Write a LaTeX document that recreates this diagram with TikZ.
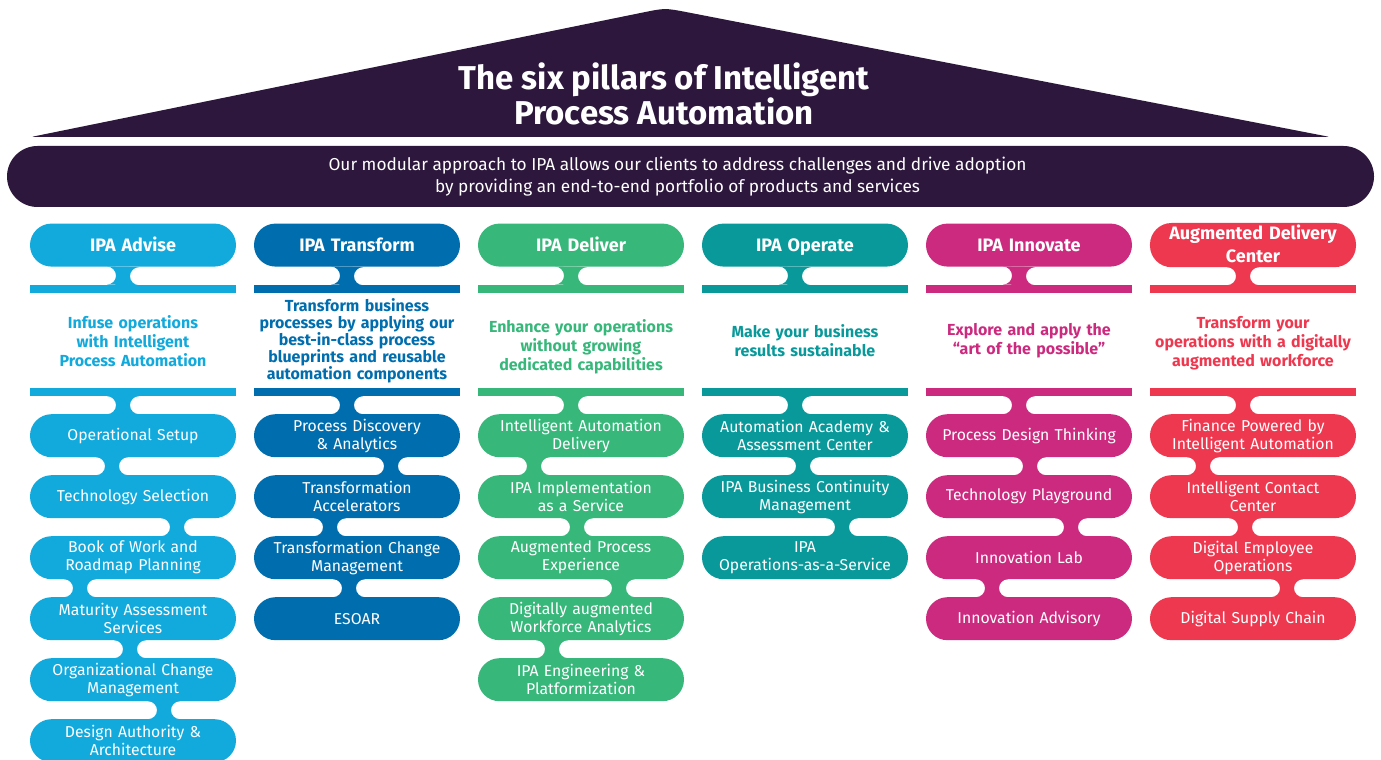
\documentclass[tikz,border=0pt]{standalone}
\usepackage{fontspec}
\setmainfont{Fira Sans}
\usetikzlibrary{matrix,calc}

\definecolor{roof}{HTML}{2D173D}
\definecolor{advise}{HTML}{12A9DC}
\definecolor{transform}{HTML}{006EAE}
\definecolor{deliver}{HTML}{37B77A}
\definecolor{operate}{HTML}{0A999B}
\definecolor{innovate}{HTML}{CB2A7F}
\definecolor{augment}{HTML}{EE384F}

% strut for the heading pills
\newcommand{\hstrut}{\rule[-4.6pt]{0pt}{21.6pt}}
% neck between two stacked nodes: colour, upper, lower, shift from centre
\newcommand{\neck}[4]{%
  \fill[#1] ($(#2.south)+(#4-16,0)$) arc[start angle=90, end angle=-90, radius=9]
    -- ($(#3.north)+(#4+16,0)$) arc[start angle=270, end angle=90, radius=9] -- cycle;}

\begin{document}
\begin{tikzpicture}[x=1pt, y=1pt,
    pill/.style={rectangle, rounded corners=21.5pt, minimum width=206pt, minimum height=43pt,
      text width=200pt, align=center, inner sep=0pt, outer sep=0pt, anchor=center,
      text=white, font=\fontsize{15.75}{18}\selectfont},
    desc/.style={fill=none, sharp corners, minimum height=111pt, text=#1,
      font=\fontsize{16}{19}\selectfont\bfseries},
    band/.style={rectangle, rounded corners=30.5pt, fill=roof, minimum width=1367pt,
      minimum height=61pt},
    intro/.style={align=center, text=white, font=\fontsize{17.25}{22}\selectfont}]
  \useasboundingbox (0,0) rectangle (1381,760);

  % roof
  \fill[roof, rounded corners=3pt] (31,623) -- (640,746.9) .. controls (665,752) .. (690,747.2)
    -- (1330,623) -- cycle;
  \node[align=center, text=white, font=\fontsize{33}{33}\selectfont\bfseries] (title) at (664,666)
    {The six pillars of Intelligent\\Process Automation};
  \node[band] (band) at (690.5,583.5) {};
  \node[intro] (intro) at ($(band.center)+(-13,0)$)
    {Our modular approach to IPA allows our clients to address challenges and drive adoption\\
     by providing an end-to-end portfolio of products and services};

  \matrix (M)[matrix of nodes, anchor=north west, inner sep=0pt, outer sep=0pt,
      column sep=18pt, row sep=18pt, nodes={pill},
      row 1/.style={nodes={font=\fontsize{18}{20.5}\selectfont\bfseries,
        execute at begin node=\hstrut, execute at end node=\hstrut}},
      column 1/.style={nodes={fill=advise}}, column 2/.style={nodes={fill=transform}},
      column 3/.style={nodes={fill=deliver}}, column 4/.style={nodes={fill=operate}},
      column 5/.style={nodes={fill=innovate}}, column 6/.style={nodes={fill=augment}}] at (30,537)
    {
      IPA Advise & IPA Transform & IPA Deliver & IPA Operate & IPA Innovate & {Augmented Delivery\\Center} \\
      |[desc=advise]| {Infuse operations\\with Intelligent\\Process Automation} &
      |[desc=transform, font=\fontsize{16}{17}\selectfont\bfseries]| {Transform business\\processes by applying our\\best-in-class process\\blueprints and reusable\\automation components} &
      |[desc=deliver]| {\rule{0pt}{26pt}Enhance your operations\\without growing\\dedicated capabilities} &
      |[desc=operate]| {Make your business\\results sustainable} &
      |[desc=innovate]| {Explore and apply the\\“art of the possible”} &
      |[desc=augment]| {\rule{0pt}{17pt}Transform your\\operations with a digitally\\augmented workforce} \\
      Operational Setup & {Process Discovery\\\& Analytics} & {Intelligent Automation\\Delivery} & {Automation Academy \&\\Assessment Center} & Process Design Thinking & {Finance Powered by\\Intelligent Automation} \\
      Technology Selection & {Transformation\\Accelerators} & {IPA Implementation\\as a Service} & {IPA Business Continuity\\Management} & Technology Playground & {Intelligent Contact\\Center} \\
      {Book of Work and\\Roadmap Planning} & {Transformation Change\\Management} & {Augmented Process\\Experience} & {IPA\\Operations-as-a-Service} & Innovation Lab & {Digital Employee\\Operations} \\
      {Maturity Assessment\\Services} & ESOAR & {Digitally augmented\\Workforce Analytics} & & Innovation Advisory & Digital Supply Chain \\
      {Organizational Change\\Management} & & {IPA Engineering \&\\Platformization} & & & \\
      {Design Authority \&\\Architecture} & & & & & \\
    };

  % bars and necks round the descriptions
  \foreach \c/\col in {1/advise,2/transform,3/deliver,4/operate,5/innovate,6/augment} {
    \fill[\col] (M-2-\c.north west) rectangle ($(M-2-\c.north east)+(0,-8)$);
    \fill[\col] ($(M-2-\c.south west)+(0,8)$) rectangle (M-2-\c.south east);
    \neck{\col}{M-1-\c}{M-2-\c}{-10}
    \neck{\col}{M-2-\c}{M-3-\c}{-10}
  }
  % necks between the pills
  \foreach \c/\r/\s/\col in {1/3/-21/advise, 1/4/44/advise, 1/5/-53/advise, 1/6/-3/advise, 1/7/31/advise,
      2/3/34/transform, 2/4/-27/transform, 2/5/-8/transform,
      3/3/-47/deliver, 3/4/-4/deliver, 3/5/38/deliver, 3/6/-29/deliver,
      4/3/-2/operate, 4/4/37/operate,
      5/3/1/innovate, 5/4/42/innovate, 5/5/-37/innovate,
      6/3/-50/augment, 6/4/-8/augment, 6/5/34/augment} {
    \pgfmathtruncatemacro\n{\r+1}
    \neck{\col}{M-\r-\c}{M-\n-\c}{\s}
  }
\end{tikzpicture}
\end{document}
